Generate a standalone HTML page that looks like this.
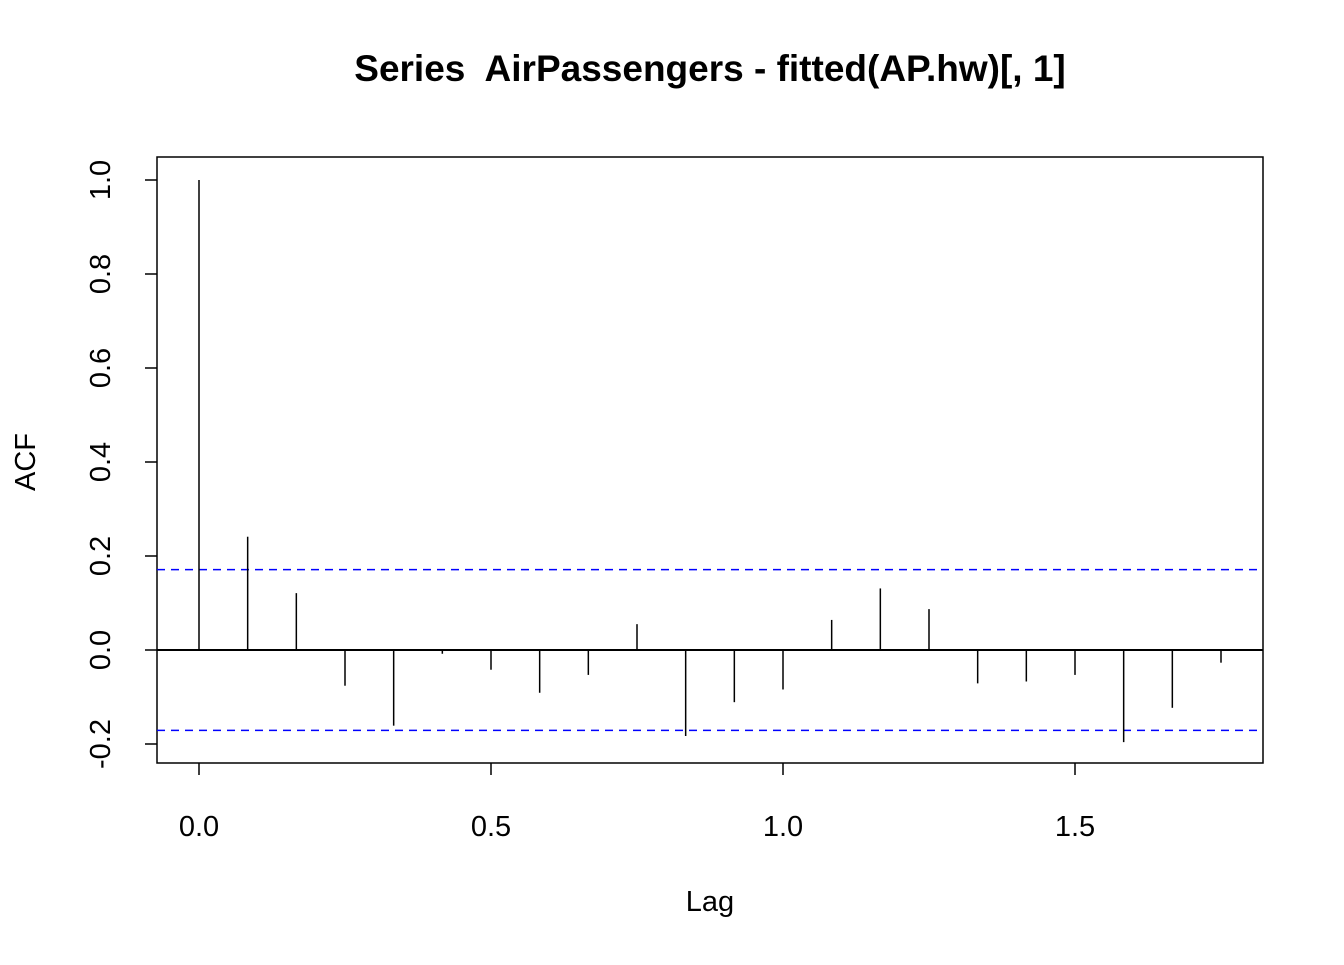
<!DOCTYPE html>
<html><head><meta charset="utf-8"><style>
body{margin:0;background:#fff}
svg text{font-family:"Liberation Sans",Arial,sans-serif;fill:#000}
</style></head><body>
<svg id="chart" width="1344" height="960" xmlns="http://www.w3.org/2000/svg">
<text x="710" y="81" text-anchor="middle" font-size="37" font-weight="bold" style="white-space:pre" xml:space="preserve">Series  AirPassengers - fitted(AP.hw)[, 1]</text>
<rect x="157" y="157" width="1106" height="606" fill="none" stroke="#000" stroke-width="1.5"/>
<text x="710" y="911" text-anchor="middle" font-size="29">Lag</text>
<text transform="translate(35,462) rotate(-90)" text-anchor="middle" font-size="29">ACF</text>
<g id="ax"></g>
<g id="marks"></g>
</svg>
<script>
const lags=[0,1,2,3,4,5,6,7,8,9,10,11,12,13,14,15,16,17,18,19,20,21].map(k=>k/12);
const acfValues=[1.0,0.241,0.121,-0.076,-0.161,-0.008,-0.042,-0.091,-0.053,0.055,-0.183,-0.111,-0.084,0.064,0.131,0.087,-0.071,-0.067,-0.053,-0.196,-0.123,-0.027];
const ciBound=[0.171];
const xTicks=["0.0","0.5","1.0","1.5"];
const yTicks=["-0.2","0.0","0.2","0.4","0.6","0.8","1.0"];
const X=v=>199+v*584;
const Y=v=>650-v*470;
const NS="http://www.w3.org/2000/svg";
function mk(parent,tag,attrs){const e=document.createElementNS(NS,tag);for(const k in attrs)e.setAttribute(k,attrs[k]);document.getElementById(parent).appendChild(e);return e;}
xTicks.forEach(t=>{const v=parseFloat(t);
 const l=mk('ax','line',{x1:X(v),x2:X(v),y1:763,y2:775,stroke:'#000','stroke-width':1.5});
 
 
 const tx=mk('ax','text',{x:X(v),y:836,'text-anchor':'middle','font-size':29});tx.textContent=t;
 
 
});
yTicks.forEach(t=>{const v=parseFloat(t);
 const l=mk('ax','line',{x1:145,x2:157,y1:Y(v),y2:Y(v),stroke:'#000','stroke-width':1.5});
 
 
 const tx=mk('ax','text',{transform:`translate(110,${Y(v)}) rotate(-90)`,'text-anchor':'middle','font-size':29});tx.textContent=t;
 
 
});
const z=mk('marks','line',{x1:157,x2:1263,y1:Y(0),y2:Y(0),stroke:'#000','stroke-width':2});


[ciBound[0],-ciBound[0]].forEach(c=>{
 const l=mk('marks','line',{x1:157,x2:1263,y1:Y(c),y2:Y(c),stroke:'#0000ff','stroke-width':1.5,'stroke-dasharray':'8,6'});
 
 
});
acfValues.forEach((v,i)=>{
 const l=mk('marks','line',{x1:X(lags[i]),x2:X(lags[i]),y1:Y(0),y2:Y(v),stroke:'#000','stroke-width':1.5});
 
 
});
</script>
</body></html>
